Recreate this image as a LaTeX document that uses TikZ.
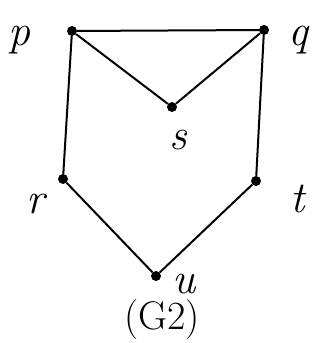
\documentclass[tikz,border=0pt]{standalone}
\begin{document}
\begin{tikzpicture}[x=1pt,y=-1pt,
  vtx/.style={circle,fill=black,inner sep=0pt,minimum size=10pt},
  edge/.style={line width=2pt,black},
  lbl/.style={font=\fontsize{44}{44}\selectfont\itshape,inner sep=0pt}]
\useasboundingbox (0,0) rectangle (325,343);
\node[vtx] (p) at (72,31) {};
\node[vtx] (q) at (264,30) {};
\node[vtx] (s) at (172,107) {};
\node[vtx] (r) at (63,179) {};
\node[vtx] (t) at (256,181) {};
\node[vtx] (u) at (156,276) {};
\draw[edge] (p) -- (q);
\draw[edge] (p) -- (s);
\draw[edge] (q) -- (s);
\draw[edge] (p) -- (r);
\draw[edge] (q) -- (t);
\draw[edge] (r) -- (u);
\draw[edge] (t) -- (u);
\node[lbl] (lp) at (20,40) {p};
\node[lbl] (lq) at (298,40) {q};
\node[lbl] (ls) at (178,140) {s};
\node[lbl] (lr) at (36,204) {r};
\node[lbl] (lt) at (298,199) {t};
\node[lbl] (lu) at (184,284) {u};
\node[font=\fontsize{40}{40}\selectfont,inner sep=0pt] (g) at (162,320) {(G2)};
\end{tikzpicture}
\end{document}
